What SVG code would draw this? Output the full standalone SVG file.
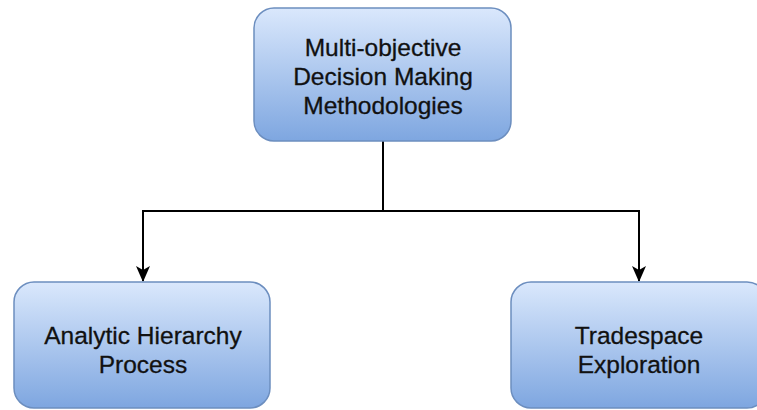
<svg xmlns="http://www.w3.org/2000/svg" width="757" height="410" viewBox="0 0 757 410">
  <defs>
    <linearGradient id="boxFill" x1="0" y1="0" x2="0" y2="1">
      <stop offset="0" stop-color="#dae8fc"/>
      <stop offset="1" stop-color="#7ea6e0"/>
    </linearGradient>
    <marker id="arrow" viewBox="0 0 16 14" refX="15" refY="7" markerWidth="16" markerHeight="14" markerUnits="userSpaceOnUse" orient="auto">
      <path d="M0,0 L16,7 L0,14 L4,7 Z" fill="#000"/>
    </marker>
  </defs>
  <style>
    .box { fill: url(#boxFill); stroke: #6c8ebf; stroke-width: 1.5; }
    .label { font-family: "Liberation Sans", Arial, sans-serif; font-size: 24.5px; fill: #111; stroke: #111; stroke-width: 0.3; text-anchor: middle; }
    .edge { fill: none; stroke: #000; stroke-width: 2; }
  </style>
  <rect width="757" height="410" fill="#fff"/>

  <g id="connectors">
    <path class="edge" d="M383,141 V211 H143 V281" marker-end="url(#arrow)"/>
    <path class="edge" d="M383,211 H639 V281" marker-end="url(#arrow)"/>
  </g>

  <g id="node-mcdm">
    <rect class="box" x="254" y="8" width="257" height="133" rx="20"/>
    <text class="label" x="383" y="56">Multi-objective</text>
    <text class="label" x="383" y="85">Decision Making</text>
    <text class="label" x="383" y="114">Methodologies</text>
  </g>

  <g id="node-ahp">
    <rect class="box" x="14" y="282" width="256" height="126" rx="20"/>
    <text class="label" x="143" y="344">Analytic Hierarchy</text>
    <text class="label" x="143" y="373">Process</text>
  </g>

  <g id="node-tradespace">
    <rect class="box" x="511" y="282" width="256" height="126" rx="20"/>
    <text class="label" x="639" y="344">Tradespace</text>
    <text class="label" x="639" y="373">Exploration</text>
  </g>
</svg>
